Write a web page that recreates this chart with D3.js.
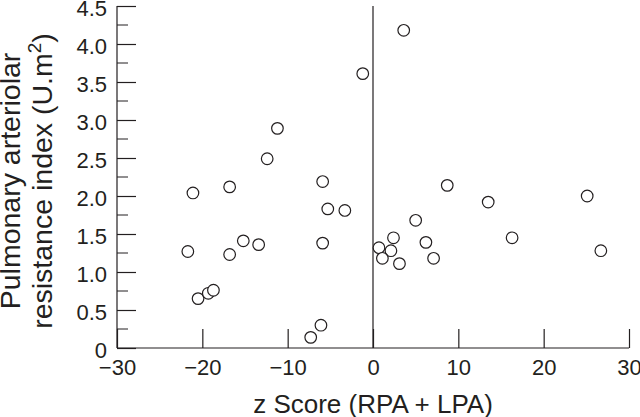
<!DOCTYPE html>
<html>
<head>
<meta charset="utf-8">
<script src="https://cdn.jsdelivr.net/npm/d3@7"></script>
<style>
  body { margin: 0; background: #fff; }
  svg text { font-family: "Liberation Sans", Arial, Helvetica, sans-serif; fill: #231f20; }
</style>
</head>
<body>
<div id="chart"></div>
<script>
// z score values (x) and resistance index (y)
const zScore = [-1.2, -11.2, -12.4, -5.9, 3.6, -21.1, -16.8, -5.3, -3.3, -21.7,
  -15.2, -13.4, -16.8, -5.9, -20.5, -19.3, -18.7, -6.1, -7.3,
  8.7, 13.5, 25.1, 5.0, 2.4, 0.7, 2.1, 1.1, 3.1, 6.2, 7.1, 16.3, 26.7]
const resistance = [3.61, 2.89, 2.49, 2.19, 4.18, 2.04, 2.12, 1.83, 1.81, 1.27,
  1.41, 1.36, 1.23, 1.38, 0.65, 0.72, 0.76, 0.30, 0.14,
  2.14, 1.92, 2.00, 1.68, 1.45, 1.32, 1.28, 1.18, 1.11, 1.39, 1.18, 1.45, 1.28]
const xTicks = [-30, -20, -10, 0, 10, 20, 30]
const yTicks = [0, 0.5, 1, 1.5, 2, 2.5, 3, 3.5, 4, 4.5]
const yMinor = [0.25, 0.75, 1.25, 1.75, 2.25, 2.75, 3.25, 3.75, 4.25]

const width = 640, height = 417
const margin = { left: 117, right: 11, top: 6, bottom: 69 }
const ink = '#231f20'

const svg = d3.select('#chart').append('svg')
  .attr('width', width)
  .attr('height', height)

const x = d3.scaleLinear().domain([-30, 30]).range([margin.left, width - margin.right])
const y = d3.scaleLinear().domain([0, 4.5]).range([height - margin.bottom, margin.top])

const fmtMinus = d => (d < 0 ? '\u2212' + Math.abs(d) : '' + d)

// x axis, ticks pointing up into the plot
const xAxis = d3.axisBottom(x).tickValues(xTicks).tickSize(-19).tickPadding(11)
  .tickFormat(fmtMinus)
svg.append('g')
  .attr('transform', `translate(0,${y(0)})`)
  .call(xAxis)
  .call(g => g.select('.domain').attr('d', `M${x(-30)},0H${x(30)}`))
  .call(g => g.selectAll('.tick text').attr('font-size', 22))

// y axis, ticks pointing right
const yAxis = d3.axisLeft(y).tickValues(yTicks).tickSize(-19)
  .tickFormat(d => (d === 0 ? '0' : d3.format('.1f')(d)))
svg.append('g')
  .attr('transform', `translate(${x(-30)},0)`)
  .call(yAxis)
  .call(g => g.select('.domain').attr('d', `M0,${y(4.5)}V${y(0)}`))
  .call(g => g.selectAll('.tick text').attr('font-size', 22).attr('x', -10).attr('dy', '0.42em'))

svg.append('g')
  .selectAll('line')
  .data(yMinor)
  .join('line')
  .attr('x1', x(-30))
  .attr('x2', x(-30) + 11)
  .attr('y1', d => y(d))
  .attr('y2', d => y(d))
  .attr('stroke', ink)

svg.selectAll('.domain, .tick line').attr('stroke', ink).attr('stroke-width', 1.2)

// vertical reference line at zero
svg.append('line')
  .attr('x1', x(0)).attr('x2', x(0))
  .attr('y1', y(4.5)).attr('y2', y(0))
  .attr('stroke', ink)
  .attr('stroke-width', 1.2)

// points
svg.append('g')
  .selectAll('circle')
  .data(zScore.map((z, i) => ({ z, r: resistance[i] })))
  .join('circle')
  .attr('cx', d => x(d.z))
  .attr('cy', d => y(d.r))
  .attr('r', 5.8)
  .attr('fill', '#fff')
  .attr('stroke', ink)
  .attr('stroke-width', 1.2)

// axis titles
svg.append('text')
  .attr('x', x(0))
  .attr('y', 413)
  .attr('text-anchor', 'middle')
  .attr('font-size', 26)
  .text('z Score (RPA + LPA)')

const yTitle = svg.append('text')
  .attr('transform', 'translate(0,181) rotate(-90)')
  .attr('text-anchor', 'middle')
  .attr('font-size', 28.5)
yTitle.append('tspan').attr('x', 0).attr('y', 20).text('Pulmonary arteriolar')
const line2 = yTitle.append('tspan').attr('x', 0).attr('y', 52)
line2.append('tspan').text('resistance index (U.m')
line2.append('tspan').attr('dy', -11).attr('font-size', 19).text('2')
line2.append('tspan').attr('dy', 11).text(')')
</script>
</body>
</html>
